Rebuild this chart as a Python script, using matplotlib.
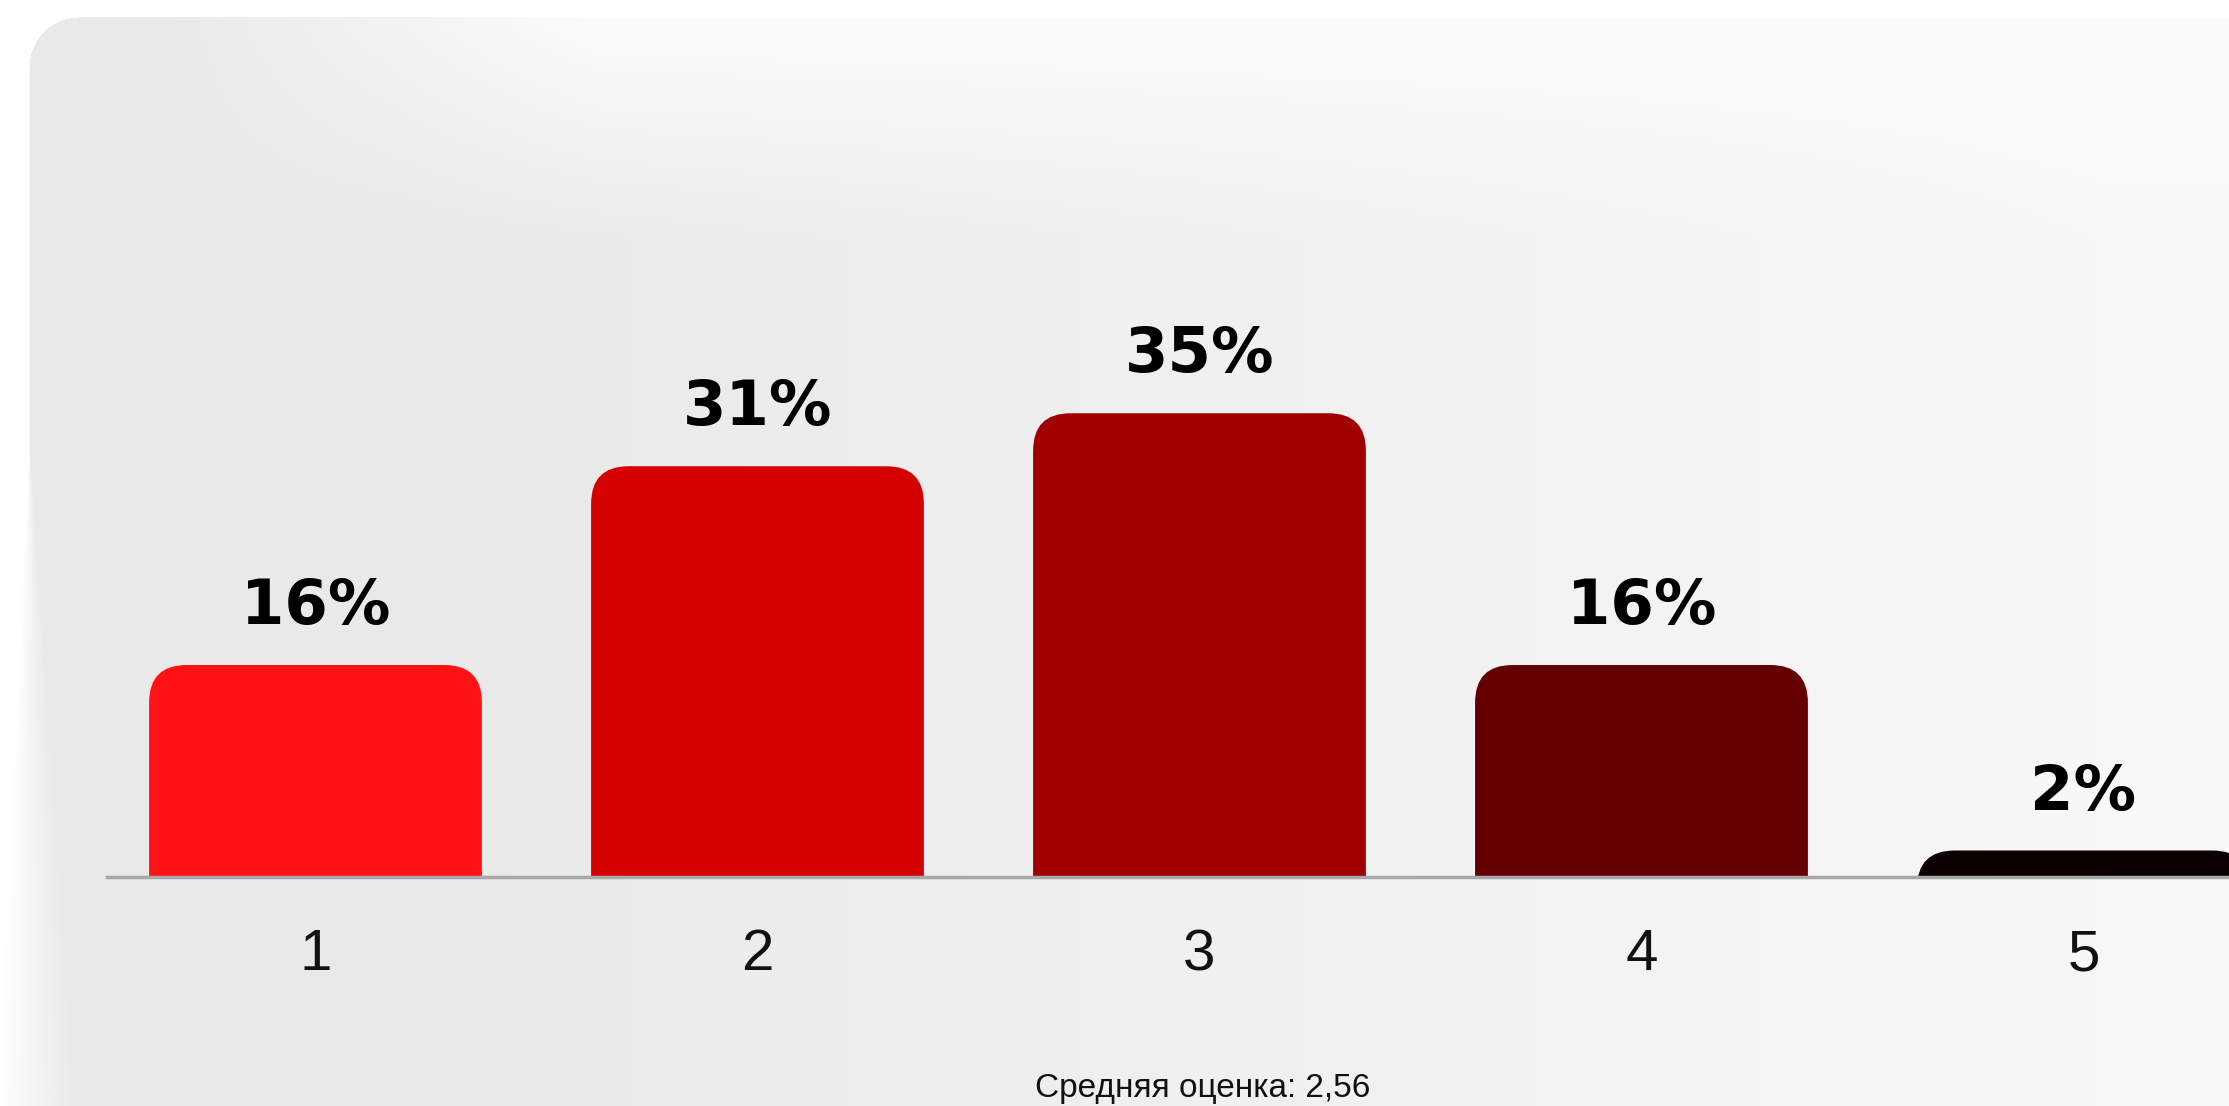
import matplotlib.pyplot as plt
import numpy as np
from matplotlib.patches import FancyBboxPatch

# survey results: share of answers per score
scores = ['1', '2', '3', '4', '5']
shares = [16, 31, 35, 16, 2]
bar_colors = ['#ff1214', '#d50000', '#a00000', '#640000', '#0c0000']
footer = 'Средняя оценка: 2,56'

W, H = 2229, 1106
fig = plt.figure(figsize=(W / 100, H / 100), dpi=100, facecolor='white')

# soft grey card behind the chart
bg = fig.add_axes([0, 0, 1, 1], zorder=-1)
yy, xx = np.mgrid[0:H, 0:W].astype(float)
val = 233 + 15 * np.clip((xx - 400) / 1700, 0, 1)
top = np.clip(1 - (yy - 17) / 220, 0, 1) * np.clip((xx - 150) / 450, 0, 1)
val = val * (1 - top) + 252 * top
soft = 1 + 80 * np.clip((yy - 450) / 650, 0, 1)
alpha = np.clip((xx - 29 + 0.4 * soft) / soft, 0, 1)
alpha[yy < 17] = 0
r = 50
corner = (xx < 29 + r) & (yy < 17 + r) & ((xx - 29 - r) ** 2 + (yy - 17 - r) ** 2 > r ** 2)
alpha[corner] = 0
grey = val / 255 * alpha + (1 - alpha)
img = np.dstack([grey, grey, grey])
bg.imshow(img, extent=[0, W, H, 0], aspect='auto', interpolation='bilinear')
bg.set_axis_off()

ax = fig.add_axes([107 / W, 229 / H, (W - 107) / W, (H - 50 - 229) / H])
ax.set_facecolor('none')
x = np.arange(len(scores))
bars = ax.bar(x, shares, width=0.753, color=bar_colors)

# swap plain rectangles for bars with rounded top corners
for b, c in zip(bars, bar_colors):
    b.set_visible(False)
    rounded = FancyBboxPatch((b.get_x(), -6), b.get_width(), b.get_height() + 6,
                             boxstyle='round,pad=0,rounding_size=0.085',
                             mutation_aspect=33.4, facecolor=c, edgecolor='none')
    ax.add_patch(rounded)

for xi, v in zip(x, shares):
    ax.annotate(f'{v}%', (xi, v), xytext=(0, 29.5), textcoords='offset points',
                ha='center', va='baseline', fontsize=45, fontweight='bold',
                family='DejaVu Sans', color='black')

ax.set_xlim(-0.4717, -0.4717 + (W - 107) / 442)
ax.set_ylim(0, (877 - 50) / 13.25)
ax.set_xticks(x)
ax.set_xticklabels(scores, family='Liberation Sans', fontsize=42, color='#111111')
ax.tick_params(axis='x', length=0, pad=37)
ax.set_yticks([])
for side in ['top', 'left', 'right']:
    ax.spines[side].set_visible(False)
ax.spines['bottom'].set_color('#a8a8a8')
ax.spines['bottom'].set_linewidth(2.5)
ax.spines['bottom'].set_zorder(5)

fig.text(1203 / W, 9 / H, footer, ha='center', va='baseline',
         family='Liberation Sans', fontsize=24, color='#111111')

plt.savefig('out.png', dpi=100, facecolor='white')
